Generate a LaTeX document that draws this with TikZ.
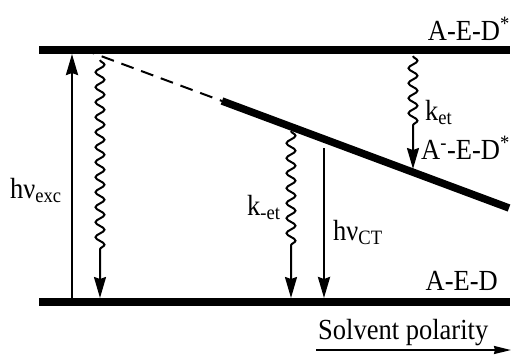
\documentclass[tikz,border=0pt]{standalone}
\usepackage{fontspec}
\setmainfont{Liberation Serif}
\usetikzlibrary{arrows.meta, decorations.pathmorphing}
\newcommand{\tallbox}[1]{\scalebox{1}[1.1]{#1}}

\begin{document}
\begin{tikzpicture}[
  x=1pt, y=-1pt,
  levelstyle/.style={line width=7.5pt},
  arrow/.style={-{Stealth[length=21pt, width=12pt, inset=2pt]}, line width=2.5pt},
  wavy/.style={arrow, line width=2pt, decoration={snake, segment length=15pt, amplitude=4.5pt}},
  lbl/.style={inner sep=0pt, font=\fontsize{26.5}{30}\selectfont}
]
  \useasboundingbox (0,0) rectangle (517,354);

  % energy levels
  \coordinate (ul) at (39,50);   \coordinate (ur) at (510,50);
  \coordinate (dl) at (39,302);  \coordinate (dr) at (510,302);
  \coordinate (cd) at (82,49);   \coordinate (cs) at (222,101);
  \coordinate (ce) at (509,208);
  \draw[levelstyle] (ul) -- (ur);
  \draw[levelstyle] (dl) -- (dr);
  \draw[levelstyle] (cs) -- (ce);
  \draw[line width=2pt, dash pattern=on 13pt off 8pt] (cd) -- (cs);

  % transitions
  \coordinate (xa) at (72,298);  \coordinate (xb) at (72,54);
  \coordinate (fa) at (100,60);  \coordinate (fb) at (100,250);  \coordinate (fc) at (100,298);
  \coordinate (ka) at (413,56);  \coordinate (kb) at (413,128);  \coordinate (kc) at (413,169);
  \coordinate (ba) at (291,131); \coordinate (bb) at (291,252);  \coordinate (bc) at (291,298);
  \coordinate (ta) at (324,148); \coordinate (tb) at (324,298);
  \draw[arrow] (xa) -- (xb);
  \draw[wavy] (fa) decorate {-- (fb)} -- (fc);
  \draw[wavy] (ka) decorate {-- (kb)} -- (kc);
  \draw[wavy] (ba) decorate {-- (bb)} -- (bc);
  \draw[arrow] (ta) -- (tb);

  % labels
  \node[lbl, anchor=base east] (up) at (510,40) {\tallbox{A-E-D\textsuperscript{*}}};
  \node[lbl, anchor=base west] (ket) at (425,120) {\tallbox{k\textsubscript{et}}};
  \node[lbl, anchor=base east] (ct) at (510,159) {\tallbox{A\textsuperscript{-}-E-D\textsuperscript{*}}};
  \node[lbl, anchor=base west] (exc) at (10,198) {\tallbox{hν\textsubscript{exc}}};
  \node[lbl, anchor=base west] (kmet) at (247,215) {\tallbox{k\textsubscript{-et}}};
  \node[lbl, anchor=base west] (hct) at (333,240) {\tallbox{hν\textsubscript{CT}}};
  \node[lbl, anchor=base east] (gs) at (498,290) {\tallbox{A-E-D}};
  \node[lbl, anchor=base west] (sp) at (318,339) {\tallbox{Solvent polarity}};

  \coordinate (sa) at (316,350); \coordinate (sb) at (511,350);
  \draw[-{Stealth[length=17pt, width=8pt, inset=1pt]}, line width=2pt] (sa) -- (sb);
\end{tikzpicture}
\end{document}
